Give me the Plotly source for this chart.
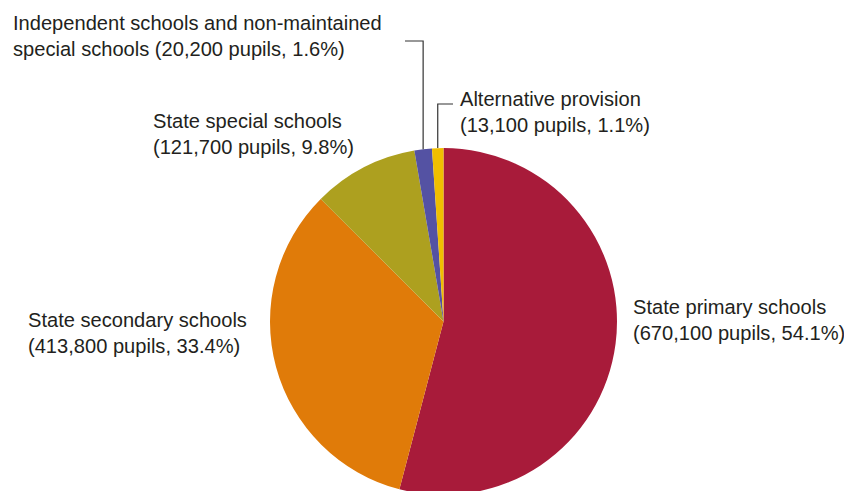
import math
import plotly.graph_objects as go

categories = ["State primary schools", "State secondary schools", "State special schools",
              "Independent schools and non-maintained special schools", "Alternative provision"]
pupils = [670100, 413800, 121700, 20200, 13100]
percents = [54.1, 33.4, 9.8, 1.6, 1.1]
label_lines = [
    ["State primary schools", "(670,100 pupils, 54.1%)"],
    ["State secondary schools", "(413,800 pupils, 33.4%)"],
    ["State special schools", "(121,700 pupils, 9.8%)"],
    ["Independent schools and non-maintained", "special schools (20,200 pupils, 1.6%)"],
    ["Alternative provision", "(13,100 pupils, 1.1%)"],
]
colors = ["#A81B3A", "#E07B09", "#ADA01F", "#5452A3", "#F0BE00"]

W, H = 852, 496
OFF = 8  # page body margin
cx, cy, r = 443.5, 321.5, 173.5

def px(x):
    return (x - OFF) / W

def py(y):
    return 1 - (y - OFF) / H

fig = go.Figure(go.Pie(
    labels=categories, values=pupils, sort=False, direction="clockwise", rotation=0,
    marker=dict(colors=colors, line=dict(width=0)), textinfo="none", hoverinfo="label+value+percent",
    domain=dict(x=[px(cx - r), px(cx + r)], y=[py(cy + r), py(cy - r)]),
    showlegend=False,
))

# label anchor positions (pixels: left x, centre y of block)
label_pos = [(631, 320), (26, 333), (151, 134), (11, 36), (458, 112)]
font = dict(family="Liberation Sans, Arial, sans-serif", size=20.1, color="#231F20")
for lines, (lx, ly) in zip(label_lines, label_pos):
    fig.add_annotation(x=px(lx), y=py(ly), xref="paper", yref="paper", xanchor="left", yanchor="middle",
                       align="left", showarrow=False, text="<br>".join(lines), font=font)

# leader lines for small slices, end point from slice mid angle
total = sum(pupils)
cum = 0
mids = []
for v in pupils:
    mids.append((cum + v / 2) / total * 2 * math.pi)
    cum += v
leader = {3: (405, 41), 4: (453, 104)}
for i, (tx, ty) in leader.items():
    a = mids[i]
    ex = cx + r * math.sin(a)
    ey = cy - r * math.cos(a)
    fig.add_shape(type="path", xref="paper", yref="paper",
                  path=f"M {px(tx)} {py(ty)} L {px(ex)} {py(ty)} L {px(ex)} {py(ey)}",
                  line=dict(color="#333333", width=1.2))

fig.update_layout(width=W, height=H, margin=dict(l=0, r=0, t=0, b=0),
                  paper_bgcolor="white", plot_bgcolor="white")
fig.write_html("out.html")
